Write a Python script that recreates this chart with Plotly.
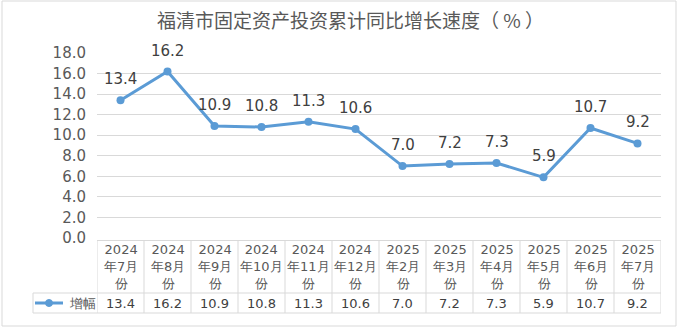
import plotly.graph_objects as go

years = ["2024", "2024", "2024", "2024", "2024", "2024", "2025", "2025", "2025", "2025", "2025", "2025"]
months = ["年7月", "年8月", "年9月", "年10月", "年11月", "年12月", "年2月", "年3月", "年4月", "年5月", "年6月", "年7月"]
values = [13.4, 16.2, 10.9, 10.8, 11.3, 10.6, 7.0, 7.2, 7.3, 5.9, 10.7, 9.2]
series_name = "增幅"
title_text = "福清市固定资产投资累计同比增长速度（ % ）"
y_ticks = [0, 2, 4, 6, 8, 10, 12, 14, 16, 18]

W, H = 679, 330
L, R, T, B = 97, 661, 53, 238  # plot area in pixels


def px(x):
    return (x - L) / (R - L)


def py(y):
    return (B - y) / (B - T)


BLUE = "#5B9BD5"
GRID = "#D9D9D9"
TXT = "#595959"
DARK = "#404040"
FONT = "DejaVu Sans"

idx = list(range(len(values)))

fig = go.Figure()
fig.add_trace(go.Scatter(
    x=idx, y=values, mode="lines+markers",
    line=dict(color=BLUE, width=3),
    marker=dict(color=BLUE, size=8),
    name=series_name, showlegend=False, hoverinfo="skip",
))

annotations = []
# data labels
for i, v in zip(idx, values):
    annotations.append(dict(x=i, y=v, xref="x", yref="y", text=f"{v:.1f}",
                            showarrow=False, yshift=21,
                            font=dict(family=FONT, size=15, color=DARK)))
# table header labels
for i, (yy, mm) in enumerate(zip(years, months)):
    annotations.append(dict(x=i, y=py(266.5), xref="x", yref="paper",
                            text=f"{yy}<br>{mm}<br>份", showarrow=False,
                            yanchor="middle", xanchor="center",
                            font=dict(family=FONT, size=13, color=TXT)))
# table values
for i, v in zip(idx, values):
    annotations.append(dict(x=i, y=py(303), xref="x", yref="paper",
                            text=f"{v:.1f}", showarrow=False,
                            yanchor="middle", xanchor="center",
                            font=dict(family=FONT, size=13, color=DARK)))
# legend text
annotations.append(dict(x=px(67), y=py(303), xref="paper", yref="paper",
                        text=series_name, showarrow=False,
                        xanchor="left", yanchor="middle",
                        font=dict(family=FONT, size=13, color=TXT)))
# title
annotations.append(dict(x=px(350), y=py(19), xref="paper", yref="paper",
                        text=title_text, showarrow=False,
                        xanchor="center", yanchor="middle",
                        font=dict(family="Noto Sans CJK SC", size=19, color=TXT)))

shapes = []
# chart frame
shapes.append(dict(type="rect", xref="paper", yref="paper",
                   x0=px(2), x1=px(676), y0=py(326), y1=py(1),
                   line=dict(color=GRID, width=1), fillcolor="rgba(0,0,0,0)", layer="below"))
# table lines
n = len(values)
shapes.append(dict(type="line", xref="x", yref="paper", x0=-0.5, x1=n - 0.5,
                   y0=py(240.5), y1=py(240.5), line=dict(color=GRID, width=1)))
for yline in (293, 313):
    shapes.append(dict(type="line", xref="paper", yref="paper", x0=px(33), x1=1,
                       y0=py(yline), y1=py(yline), line=dict(color=GRID, width=1)))
for k in range(n + 1):
    shapes.append(dict(type="line", xref="x", yref="paper", x0=k - 0.5, x1=k - 0.5,
                       y0=py(240.5), y1=py(313), line=dict(color=GRID, width=1)))
shapes.append(dict(type="line", xref="paper", yref="paper", x0=px(33), x1=px(33),
                   y0=py(293), y1=py(313), line=dict(color=GRID, width=1)))
# legend key
shapes.append(dict(type="line", xref="paper", yref="paper", x0=px(35), x1=px(63),
                   y0=py(303), y1=py(303), line=dict(color=BLUE, width=3)))
shapes.append(dict(type="circle", xref="paper", yref="paper",
                   x0=px(45.5), x1=px(52.5), y0=py(306.5), y1=py(299.5),
                   line=dict(color=BLUE, width=1), fillcolor=BLUE))

fig.update_layout(
    width=W, height=H,
    margin=dict(l=L, r=W - R, t=T, b=H - B, pad=0),
    paper_bgcolor="white", plot_bgcolor="white",
    showlegend=False,
    xaxis=dict(range=[-0.5, n - 0.5], showgrid=False, zeroline=False,
               showticklabels=False, ticks="", showline=False, fixedrange=True),
    yaxis=dict(range=[0, 18], tickvals=y_ticks,
               ticktext=[f"{t:.1f}" for t in y_ticks],
               showgrid=True, gridcolor=GRID, gridwidth=1,
               zeroline=False, showline=False, ticks="",
               ticklabelstandoff=10,
               tickfont=dict(family=FONT, size=15, color=TXT), fixedrange=True),
    annotations=annotations, shapes=shapes,
)

fig.write_html("out.html", config={"displayModeBar": False})
